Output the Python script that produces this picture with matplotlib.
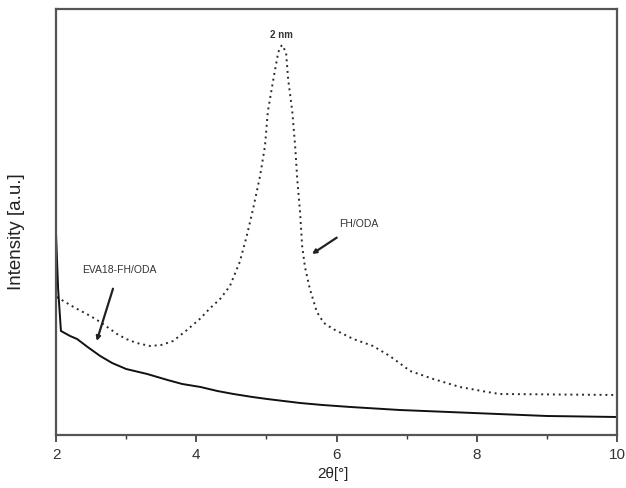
import matplotlib
matplotlib.use("Agg")
import matplotlib.pyplot as plt
from matplotlib.ticker import MultipleLocator

plt.rcParams["font.family"] = ["Liberation Sans", "DejaVu Sans"]

# FH/ODA (dotted)
fh_x = [2.01, 2.25, 2.49, 2.63, 2.87, 3.0, 3.15, 3.34, 3.5, 3.67, 3.85, 4.05,
        4.2, 4.34, 4.48, 4.62, 4.72, 4.81, 4.91, 4.98, 5.02, 5.10, 5.17, 5.22,
        5.28, 5.31, 5.37, 5.41, 5.44, 5.48, 5.51, 5.55, 5.62, 5.72, 5.82, 5.95,
        6.24, 6.52, 6.76, 7.05, 7.38, 7.76, 8.15, 8.33, 10.0]
fh_y = [138, 128, 119, 113, 101, 96, 92, 89, 90, 94, 104, 116,
        127, 136, 149, 173, 199, 226, 259, 289, 323, 356, 383, 390,
        383, 356, 323, 289, 256, 223, 189, 168, 146, 123, 112, 106,
        96, 89, 79, 64, 56, 48, 43, 41, 40]

# EVA18-FH/ODA (solid)
eva_x = [2.0, 2.03, 2.07, 2.2, 2.3, 2.45, 2.63, 2.8, 3.0, 3.3, 3.59, 3.8,
         4.06, 4.3, 4.53, 4.8, 5.01, 5.48, 5.8, 6.2, 6.9, 7.6, 8.3, 9.0, 10.0]
eva_y = [201, 146, 104, 99, 96, 88, 79, 72, 66, 61, 55, 51,
         48, 44, 41, 38, 36, 32, 30, 28, 25, 23, 21, 19, 18]

fig = plt.figure(figsize=(6.26, 4.89), dpi=100)
ax = fig.add_axes([0.0895, 0.1084, 0.8961, 0.8712])

ax.plot(fh_x, fh_y, color="#2a2a2a", lw=1.4, linestyle=(0, (1, 2.0)))
ax.plot(eva_x, eva_y, color="#111111", lw=1.4)

ax.set_xlim(2, 10)
ax.set_ylim(0, 426)
ax.xaxis.set_major_locator(MultipleLocator(2))
ax.xaxis.set_minor_locator(MultipleLocator(1))
ax.set_yticks([])
ax.tick_params(axis="x", which="major", direction="out", length=5, width=1.2,
               labelsize=11, colors="#333333", pad=4)
ax.tick_params(axis="x", which="minor", direction="out", length=3, width=1.0,
               colors="#333333")
for s in ax.spines.values():
    s.set_color("#555555")
    s.set_linewidth(1.6)

ax.set_xlabel("2θ[°]", fontsize=11, color="#222222")
ax.xaxis.set_label_coords(0.494, -0.072)
ax.set_ylabel("Intensity [a.u.]", fontsize=13.5, color="#222222")
ax.yaxis.set_label_coords(-0.055, 0.48)

ax.text(5.22, 396, "2 nm", fontsize=7, fontweight="bold", ha="center",
        va="bottom", color="#333333")
ax.annotate("FH/ODA", xy=(5.65, 181), xytext=(6.32, 212), fontsize=7.5,
            color="#333333", ha="center", va="center",
            arrowprops=dict(arrowstyle="-|>", color="#222222", lw=1.6,
                            mutation_scale=6, shrinkA=9, shrinkB=0))
ax.annotate("EVA18-FH/ODA", xy=(2.58, 94), xytext=(2.9, 166), fontsize=7.5,
            color="#333333", ha="center", va="center",
            arrowprops=dict(arrowstyle="-|>", color="#222222", lw=1.6,
                            mutation_scale=6, shrinkA=9, shrinkB=0))

fig.savefig("out.png", dpi=100)
